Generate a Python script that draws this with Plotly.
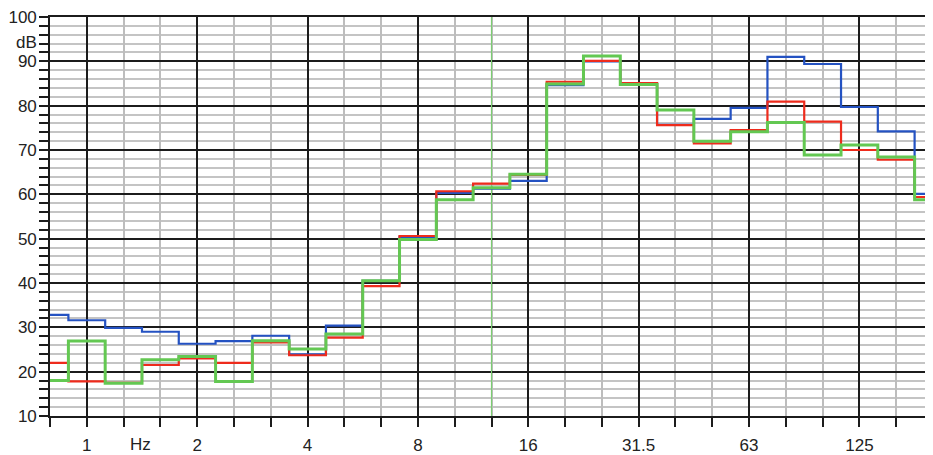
import plotly.graph_objects as go

# 1/3-octave band centre frequencies (Hz)
bands = ["0.8", "1", "1.25", "1.6", "2", "2.5", "3.15", "4", "5", "6.3", "8", "10",
         "12.5", "16", "20", "25", "31.5", "40", "50", "63", "80", "100", "125", "160", "200"]
octave_labels = ["1", "2", "4", "8", "16", "31.5", "63", "125"]
marker_band = "12.5"

# band levels (dB)
blue = [32.8, 31.6, 29.9, 29.0, 26.3, 26.9, 28.1, 23.9, 30.4, 40.5, 50.4, 60.3,
        61.3, 63.05, 84.6, 90.0, 85.0, 75.7, 77.0, 79.5, 91.0, 89.4, 79.7, 74.2, 60.1]
red = [22.0, 17.8, 17.5, 21.5, 23.0, 22.0, 26.6, 23.7, 27.7, 39.3, 50.6, 60.7,
       62.4, 64.4, 85.4, 90.1, 85.1, 75.6, 71.5, 74.5, 80.9, 76.4, 70.0, 67.8, 59.4]
green = [18.0, 26.9, 17.4, 22.7, 23.4, 17.8, 27.0, 25.1, 28.5, 40.5, 49.8, 58.8,
         61.5, 64.55, 84.9, 91.2, 84.8, 79.0, 72.0, 74.1, 76.2, 68.9, 71.1, 68.4, 58.8]

y_major = list(range(10, 101, 10))
y_limits = [10, 100]

FONT = "Liberation Sans, Arial, sans-serif"
TXT = "#222222"
DARK = "#1c1c1c"

fig = go.Figure()
# cursor line at 12.5 Hz
fig.add_trace(go.Scatter(x=[marker_band, marker_band], y=y_limits, mode="lines",
                         line=dict(color="#7ccd72", width=1.2),
                         showlegend=False, hoverinfo="skip"))
for vals, col, w in [(blue, "#2452c2", 2.2), (red, "#ee2b1c", 2.2)]:
    fig.add_trace(go.Scatter(x=bands, y=vals, mode="lines",
                             line=dict(color=col, width=w, shape="hvh"),
                             showlegend=False, hoverinfo="skip"))
# green on overlay axis (carries the octave grid lines)
fig.add_trace(go.Scatter(x=bands, y=green, mode="lines", xaxis="x2",
                         line=dict(color="#63c852", width=3, shape="hvh"),
                         showlegend=False, hoverinfo="skip"))

fig.update_layout(
    width=925, height=447,
    margin=dict(l=41, r=0, t=7, b=39),
    paper_bgcolor="white", plot_bgcolor="white",
    xaxis=dict(
        type="category", categoryorder="array", categoryarray=bands,
        range=[0, 24], autorange=False,
        tickmode="array", tickvals=bands,
        ticktext=[b if b in octave_labels else "" for b in bands],
        ticks="outside", ticklen=9, tickwidth=1.5, tickcolor=DARK,
        ticklabelstandoff=4,
        showgrid=True, gridcolor="#bdbdbd", gridwidth=1.5,
        showline=True, linecolor=DARK, linewidth=1.6, mirror=True,
        zeroline=False,
        tickfont=dict(family=FONT, size=17, color=TXT),
    ),
    xaxis2=dict(
        type="category", categoryorder="array", categoryarray=bands,
        overlaying="x", side="bottom",
        range=[0, 24], autorange=False,
        tickmode="array", tickvals=octave_labels,
        showticklabels=False, ticks="",
        showgrid=True, gridcolor=DARK, gridwidth=1.6,
        showline=False, zeroline=False,
    ),
    yaxis=dict(
        range=y_limits, autorange=False,
        tickmode="array", tickvals=y_major, ticktext=[str(v) for v in y_major],
        ticks="outside", ticklen=9, tickwidth=1.5, tickcolor=DARK,
        ticklabelstandoff=-1, ticklabeloverflow="allow",
        showgrid=True, gridcolor=DARK, gridwidth=1.6,
        showline=True, linecolor=DARK, linewidth=1.6,
        zeroline=False,
        minor=dict(dtick=2, tick0=10, ticks="outside", ticklen=9, tickwidth=1.5,
                   tickcolor=DARK, showgrid=True, gridcolor="#c4c4c4", gridwidth=1.5),
        tickfont=dict(family=FONT, size=17, color=TXT),
    ),
    annotations=[
        dict(text="Hz", xref="x", yref="paper", x=2.45, y=0, yshift=-28,
             showarrow=False, xanchor="center", yanchor="middle",
             font=dict(family=FONT, size=17, color=TXT)),
        dict(text="dB", xref="paper", yref="y", x=0, y=94.3, xshift=-11,
             showarrow=False, xanchor="right", yanchor="middle",
             font=dict(family=FONT, size=17, color=TXT)),
    ],
)

fig.write_html("out.html")
